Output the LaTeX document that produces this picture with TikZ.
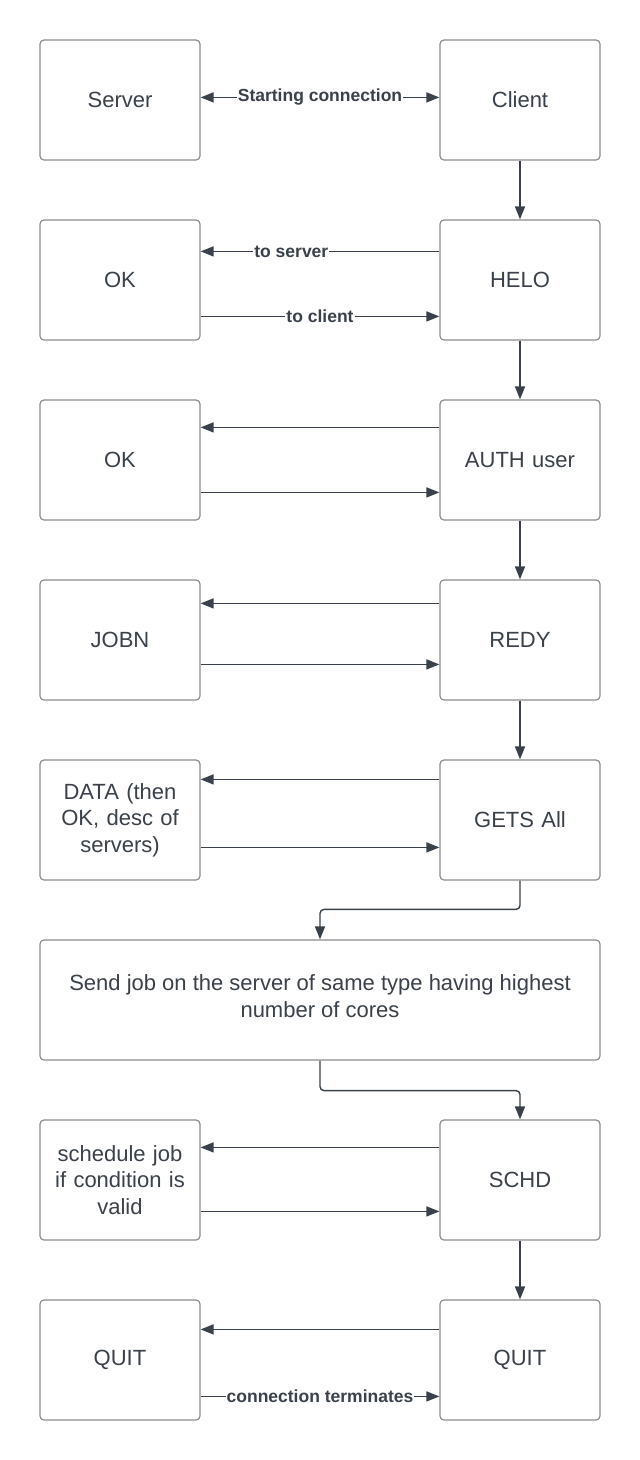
\documentclass[tikz,border=0pt]{standalone}
\usepackage{fontspec}
\setmainfont{Liberation Sans}
\usetikzlibrary{arrows.meta}
\definecolor{txt}{HTML}{3A414A}
\definecolor{bord}{HTML}{8C8C8C}
\definecolor{ln}{HTML}{3A414A}
\begin{document}
\begin{tikzpicture}[x=1pt,y=-1pt,
  box/.style={draw=bord,line width=1.2pt,rounded corners=4pt,minimum width=160pt,minimum height=120pt,
    inner sep=0pt,text=txt,font=\fontsize{22}{26.5}\selectfont,align=center,text width=150pt},
  wbox/.style={box,minimum width=560pt,text width=540pt},
  arr/.style={draw=ln,line width=1.4pt,-{Triangle[length=13pt,width=10pt]}},
  darr/.style={draw=ln,line width=1.4pt,{Triangle[length=13pt,width=10pt]}-{Triangle[length=13pt,width=10pt]}},
  lbl/.style={fill=white,inner sep=1pt,text=txt,font=\fontsize{17.5}{20}\selectfont\bfseries}]
\useasboundingbox (0,0) rectangle (640,1460);
\fill[white] (0,0) rectangle (640,1460);
% left column
\node[box] (server) at (120,100) {Server};
\node[box] (ok1) at (120,280) {OK};
\node[box] (ok2) at (120,460) {OK};
\node[box] (jobn) at (120,640) {JOBN};
\node[box] (data) at (120,820) {DATA (then\\OK, desc of\\servers)};
\node[box] (sched) at (120,1180) {schedule job\\if condition is\\valid};
\node[box] (quitl) at (120,1360) {QUIT};
% right column
\node[box] (client) at (520,100) {Client};
\node[box] (helo) at (520,280) {HELO};
\node[box] (auth) at (520,460) {AUTH user};
\node[box] (redy) at (520,640) {REDY};
\node[box] (gets) at (520,820) {GETS All};
\node[box] (schd) at (520,1180) {SCHD};
\node[box] (quitr) at (520,1360) {QUIT};
% wide box
\node[wbox] (send) at (320,1000) {};
\node[text=txt,font=\fontsize{22}{27}\selectfont,align=center] (sendtxt) at (320,996.5)
  {Send job on the server of same type having highest\\number of cores};
% row 1
\draw[darr] ([yshift=-58pt]server.north east) -- node[lbl]{Starting connection} ([yshift=-58pt]client.north west);
% row 2
\draw[arr] ([yshift=-32pt]helo.north west) -- node[lbl,pos=0.62]{to server} ([yshift=-32pt]ok1.north east);
\draw[arr] ([yshift=-97pt]ok1.north east) -- node[lbl]{to client} ([yshift=-97pt]helo.north west);
% row 3
\draw[arr] ([yshift=-28pt]auth.north west) -- ([yshift=-28pt]ok2.north east);
\draw[arr] ([yshift=-93pt]ok2.north east) -- ([yshift=-93pt]auth.north west);
% row 4
\draw[arr] ([yshift=-24pt]redy.north west) -- ([yshift=-24pt]jobn.north east);
\draw[arr] ([yshift=-85pt]jobn.north east) -- ([yshift=-85pt]redy.north west);
% row 5
\draw[arr] ([yshift=-20pt]gets.north west) -- ([yshift=-20pt]data.north east);
\draw[arr] ([yshift=-88pt]data.north east) -- ([yshift=-88pt]gets.north west);
% row 7
\draw[arr] ([yshift=-28pt]schd.north west) -- ([yshift=-28pt]sched.north east);
\draw[arr] ([yshift=-92pt]sched.north east) -- ([yshift=-92pt]schd.north west);
% row 8
\draw[arr] ([yshift=-30pt]quitr.north west) -- ([yshift=-30pt]quitl.north east);
\draw[arr] ([yshift=-97pt]quitl.north east) -- node[lbl]{connection terminates} ([yshift=-97pt]quitr.north west);
% vertical
\draw[arr] (client.south) -- (helo.north);
\draw[arr] (helo.south) -- (auth.north);
\draw[arr] (auth.south) -- (redy.north);
\draw[arr] (redy.south) -- (gets.north);
\draw[arr,rounded corners=4pt] (gets.south) |- ([yshift=30pt]send.north) -- (send.north);
\draw[arr,rounded corners=4pt] (send.south) -- ([yshift=-30pt]send.south) -| (schd.north);
\draw[arr] (schd.south) -- (quitr.north);
\end{tikzpicture}
\end{document}
